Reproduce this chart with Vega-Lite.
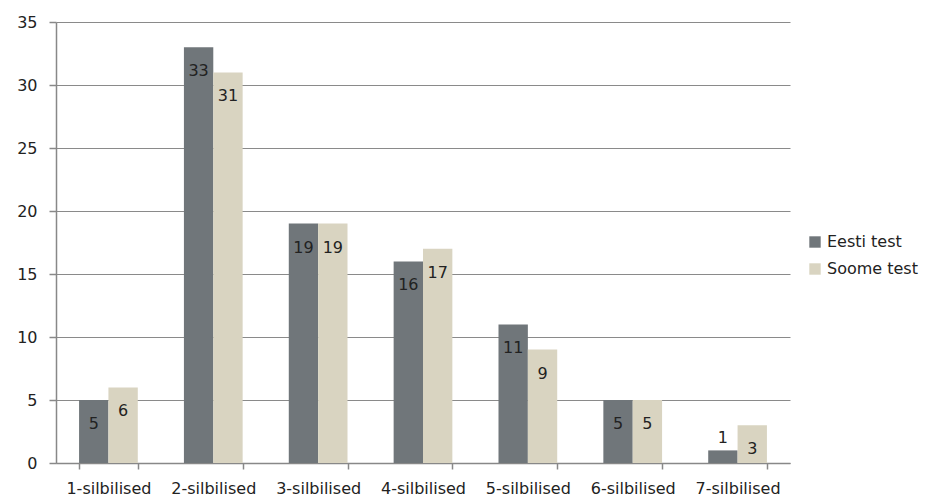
{
  "$schema": "https://vega.github.io/schema/vega-lite/v6.json",
  "autosize": {"type": "none"},
  "padding": {"left": 56, "top": 22, "right": 158, "bottom": 39},
  "width": 734,
  "height": 441,
  "background": "white",
  "config": {
    "font": "DejaVu Sans",
    "view": {"stroke": null}
  },
  "data": {
    "values": [
      {"cat": "1-silbilised", "test": "Eesti test", "value": 5},
      {"cat": "1-silbilised", "test": "Soome test", "value": 6},
      {"cat": "2-silbilised", "test": "Eesti test", "value": 33},
      {"cat": "2-silbilised", "test": "Soome test", "value": 31},
      {"cat": "3-silbilised", "test": "Eesti test", "value": 19},
      {"cat": "3-silbilised", "test": "Soome test", "value": 19},
      {"cat": "4-silbilised", "test": "Eesti test", "value": 16},
      {"cat": "4-silbilised", "test": "Soome test", "value": 17},
      {"cat": "5-silbilised", "test": "Eesti test", "value": 11},
      {"cat": "5-silbilised", "test": "Soome test", "value": 9},
      {"cat": "6-silbilised", "test": "Eesti test", "value": 5},
      {"cat": "6-silbilised", "test": "Soome test", "value": 5},
      {"cat": "7-silbilised", "test": "Eesti test", "value": 1},
      {"cat": "7-silbilised", "test": "Soome test", "value": 3}
    ]
  },
  "encoding": {
    "x": {
      "field": "cat", "type": "nominal", "title": null,
      "scale": {"paddingInner": 0.44, "paddingOuter": 0.22},
      "axis": {
        "labelAngle": 0, "labelFontSize": 16, "labelColor": "#222",
        "labelPadding": 11, "tickBand": "extent", "tickSize": 6,
        "domainColor": "#888", "tickColor": "#888", "domainWidth": 1.5, "tickWidth": 1.5,
        "grid": false, "labelOverlap": false
      }
    },
    "xOffset": {"field": "test", "type": "nominal", "scale": {"paddingInner": 0, "paddingOuter": 0}},
    "y": {
      "field": "value", "type": "quantitative", "title": null,
      "scale": {"domain": [0, 35], "nice": false},
      "axis": {
        "values": [0, 5, 10, 15, 20, 25, 30, 35],
        "labelFontSize": 16, "labelColor": "#222", "labelPadding": 12,
        "tickSize": 7, "tickColor": "#888", "domainColor": "#888",
        "domainWidth": 1.5, "tickWidth": 1.5,
        "grid": true, "gridColor": "#8a8a8a", "gridWidth": 1.2
      }
    }
  },
  "layer": [
    {
      "mark": {"type": "bar"},
      "encoding": {
        "color": {
          "field": "test", "type": "nominal", "title": null,
          "scale": {"domain": ["Eesti test", "Soome test"], "range": ["#70767a", "#d9d4c1"]},
          "legend": {
            "orient": "none", "legendX": 751, "legendY": 212,
            "symbolType": "square", "symbolSize": 130, "symbolStrokeWidth": 0,
            "labelFontSize": 16, "labelColor": "#222", "rowPadding": 11, "labelOffset": 4
          }
        }
      }
    },
    {
      "transform": [{"filter": "datum.value >= 2"}],
      "mark": {"type": "text", "baseline": "middle", "dy": 24, "fontSize": 16, "color": "#222"},
      "encoding": {"text": {"field": "value", "type": "quantitative"}}
    },
    {
      "transform": [{"filter": "datum.value < 2"}],
      "mark": {"type": "text", "baseline": "middle", "dy": -12, "fontSize": 16, "color": "#222"},
      "encoding": {"text": {"field": "value", "type": "quantitative"}}
    }
  ]
}
